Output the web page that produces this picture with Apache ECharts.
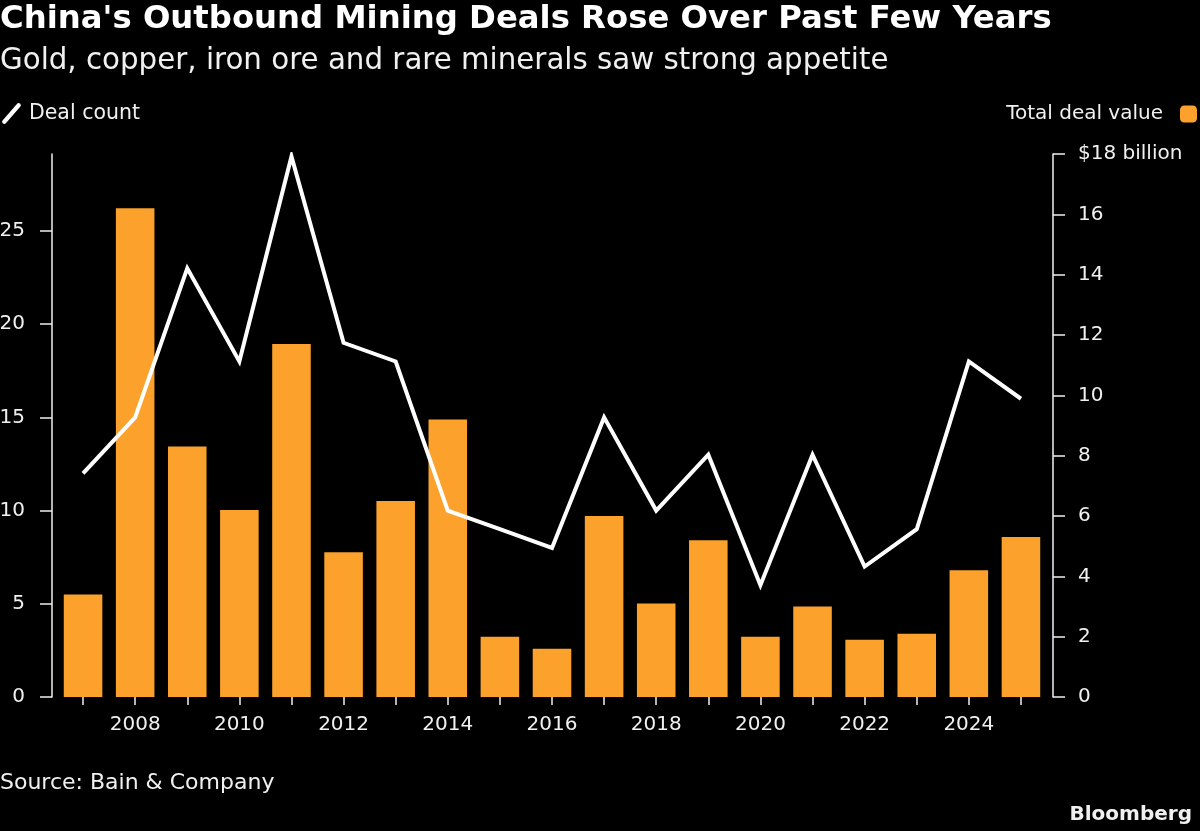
<!DOCTYPE html>
<html>
<head>
<meta charset="utf-8">
<script src="https://cdn.jsdelivr.net/npm/echarts@6/dist/echarts.min.js"></script>
<style>
  html, body { margin: 0; padding: 0; background: #000; }
  #chart { width: 1200px; height: 831px; }
</style>
</head>
<body>
<div id="chart"></div>
<script>
const years = ['2007', '2008', '2009', '2010', '2011', '2012', '2013', '2014', '2015', '2016',
  '2017', '2018', '2019', '2020', '2021', '2022', '2023', '2024', '2025']
// deal count (left axis)
const dealCount = [12, 15, 23, 18, 29, 19, 18, 10, 9, 8, 15, 10, 13, 6, 13, 7, 9, 18, 16]
// total deal value, $ billion (right axis)
const dealValue = [3.4, 16.2, 8.3, 6.2, 11.7, 4.8, 6.5, 9.2, 2.0, 1.6, 6.0, 3.1, 5.2, 2.0, 3.0, 1.9, 2.1, 4.2, 5.3]
const countTicks = [0, 5, 10, 15, 20, 25]
const valueTicks = [0, 2, 4, 6, 8, 10, 12, 14, 16, 18]

const FONT = 'DejaVu Sans'
const TEXT = '#f0f0f0'
const ORANGE = '#fba12c'

const chart = echarts.init(document.getElementById('chart'))

const option = {
  backgroundColor: '#000',
  animation: false,
  title: [
    {
      text: "China's Outbound Mining Deals Rose Over Past Few Years",
      left: 0, top: 4, padding: 0,
      textStyle: { color: '#fff', fontFamily: FONT, fontWeight: 'bold', fontSize: 32.3 },
    },
    {
      text: 'Gold, copper, iron ore and rare minerals saw strong appetite',
      left: 0, top: 47, padding: 0,
      textStyle: { color: TEXT, fontFamily: FONT, fontWeight: 'normal', fontSize: 29.3 },
    },
    {
      text: 'Source: Bain & Company',
      left: 0, top: 772, padding: 0,
      textStyle: { color: TEXT, fontFamily: FONT, fontWeight: 'normal', fontSize: 22 },
    },
    {
      text: 'Bloomberg',
      right: 8, top: 805, padding: 0,
      textStyle: { color: TEXT, fontFamily: FONT, fontWeight: 'bold', fontSize: 20 },
    },
  ],
  legend: [
    {
      data: [{ name: 'Deal count', icon: 'path://M1,17 L15,1 Q16.5,-0.5 18,1 Q19.5,2.5 18,4 L4,20 Q2.5,21.5 1,20 Q-0.5,18.5 1,17 Z' }],
      left: 2, top: 103, padding: 0,
      itemWidth: 21, itemHeight: 21,
      itemGap: 0,
      textStyle: { color: TEXT, fontFamily: FONT, fontSize: 20.5, padding: [3, 0, 0, 2] },
      selectedMode: false,
    },
    {
      data: [{ name: 'Total deal value', icon: 'roundRect' }],
      right: 3, top: 104, padding: 0,
      align: 'right',
      itemWidth: 17, itemHeight: 17,
      textStyle: { color: TEXT, fontFamily: FONT, fontSize: 20, padding: [0, 12, 0, 0] },
      selectedMode: false,
    },
  ],
  grid: { left: 57, right: 153, top: 154, bottom: 134, outerBoundsMode: 'none' },
  xAxis: {
    type: 'category',
    data: years,
    axisLine: { show: false },
    axisTick: {
      show: true, interval: 0, alignWithLabel: true, length: 8,
      lineStyle: { color: TEXT, width: 1.5 },
    },
    axisLabel: {
      interval: (i, v) => Number(v) % 2 === 0,
      color: TEXT, fontFamily: FONT, fontSize: 20, margin: 18,
    },
    splitLine: { show: false },
  },
  yAxis: [
    {
      type: 'value',
      position: 'left',
      min: 0,
      max: 29.13,
      offset: 5,
      axisLine: { show: true, lineStyle: { color: TEXT, width: 1.5 } },
      axisTick: { show: true, length: 12, customValues: countTicks, lineStyle: { color: TEXT, width: 1.5 } },
      axisLabel: { customValues: countTicks, color: TEXT, fontFamily: FONT, fontSize: 20, margin: 27 },
      splitLine: { show: false },
    },
    {
      type: 'value',
      position: 'right',
      min: 0,
      max: 18,
      interval: 2,
      offset: 6,
      axisLine: { show: true, lineStyle: { color: TEXT, width: 1.5 } },
      axisTick: { show: true, length: 12, customValues: valueTicks, lineStyle: { color: TEXT, width: 1.5 } },
      axisLabel: {
        customValues: valueTicks,
        color: TEXT, fontFamily: FONT, fontSize: 20, margin: 25,
        formatter: (v) => (v === 18 ? '$18 billion' : String(v)),
      },
      splitLine: { show: false },
    },
  ],
  series: [
    {
      name: 'Total deal value',
      type: 'bar',
      yAxisIndex: 1,
      data: dealValue,
      barWidth: '74%',
      itemStyle: { color: ORANGE },
      z: 2,
    },
    {
      name: 'Deal count',
      type: 'line',
      yAxisIndex: 0,
      data: dealCount,
      showSymbol: false,
      symbol: 'none',
      itemStyle: { color: '#fff' },
      lineStyle: { color: '#fff', width: 4, join: 'miter', cap: 'butt' },
      z: 3,
    },
  ],
}

chart.setOption(option)
</script>
</body>
</html>
